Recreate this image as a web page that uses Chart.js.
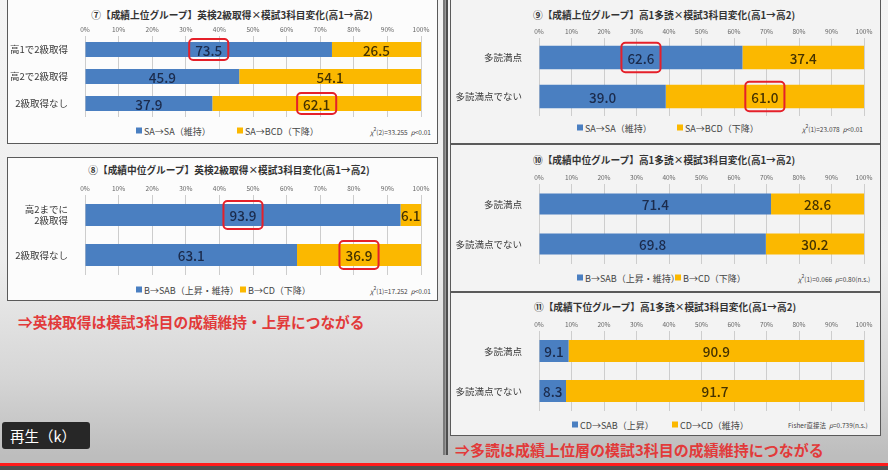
<!DOCTYPE html>
<html>
<head>
<meta charset="utf-8">
<script src="https://cdn.jsdelivr.net/npm/chart.js@4"></script>
<style>
  body { margin: 0; width: 888px; height: 470px; overflow: hidden; position: relative;
    font-family: "Noto Sans CJK JP", "Noto Sans", sans-serif;
    background: linear-gradient(to bottom, #f4f4f4 0%, #eeeeee 55%, #d6d6d6 80%, #bdbdbd 97%); }
  .panel { position: absolute; box-sizing: border-box; border: 1.5px solid #5a5a5a; }
  .left { background: #fcfcfc; }
  .right { background: #f3f3f3; }
  canvas { position: absolute; }
  .title { position: absolute; font-size: 9.7px; font-weight: bold; color: #333; white-space: nowrap; transform: translate(-50%, -50%); }
  .leg { position: absolute; font-size: 9px; color: #444; white-space: nowrap; transform: translateY(-50%); }
  .leg i { display: inline-block; width: 6px; height: 6px; margin-right: 2px; vertical-align: 1px; }
  .stat { position: absolute; font-size: 6.5px; color: #444; white-space: nowrap; transform: translateY(-50%); }
  .note { position: absolute; color: #e23a3a; font-weight: bold; white-space: nowrap; transform: translateY(-50%); }
  #frame { position: absolute; left: 443px; top: 0; width: 1px; height: 455px; border-left: 2px solid #7a7a7a; border-right: 2px solid #4e4e4e; background: #999; }
  #play { position: absolute; left: 2px; top: 422px; width: 88px; height: 27px; background: #272727; border-radius: 3px;
    color: #fff; font-size: 14.5px; line-height: 27px; padding-left: 8px; box-sizing: border-box; }
</style>
</head>
<body>
<div id="frame"></div>
<div id="panels"></div>
<div class="note" style="left:18px; top:321px; font-size:14.7px;">⇒英検取得は模試3科目の成績維持・上昇につながる</div>
<div class="note" style="left:455px; top:449px; font-size:15px;">⇒多読は成績上位層の模試3科目の成績維持につながる</div>
<div id="play">再生（k）</div>
<div style="position:absolute; left:0; top:463px; width:888px; height:3px; background:#ff1c1c;"></div>
<div style="position:absolute; left:0; top:466px; width:888px; height:4px; background:#505050;"></div>

<script>
const tickLabels = ["0%", "10%", "20%", "30%", "40%", "50%", "60%", "70%", "80%", "90%", "100%"];

const cats7 = ["高1で2級取得", "高2で2級取得", "2級取得なし"];
const keep7 = [73.5, 45.9, 37.9];
const drop7 = [26.5, 54.1, 62.1];

const cats8 = [["高2までに", "2級取得"], "2級取得なし"];
const keep8 = [93.9, 63.1];
const drop8 = [6.1, 36.9];

const cats9 = ["多読満点", "多読満点でない"];
const keep9 = [62.6, 39.0];
const drop9 = [37.4, 61.0];

const keep10 = [71.4, 69.8];
const drop10 = [28.6, 30.2];

const up11 = [9.1, 8.3];
const stay11 = [90.9, 91.7];

const BLUE = "#4a7fc1";
const GOLD = "#fbb800";
const FONT = '"Noto Sans CJK JP", "Noto Sans", sans-serif';

// numbers in the middle of each bar, red box round the marked ones
const barLabels = {
  id: "barLabels",
  afterDatasetsDraw(chart, args, opts) {
    const ctx = chart.ctx;
    chart.data.datasets.forEach((ds, di) => {
      chart.getDatasetMeta(di).data.forEach((bar, i) => {
        const txt = ds.data[i].toFixed(1);
        const cx = (bar.x + bar.base) / 2;
        ctx.save();
        ctx.font = "500 13.5px " + FONT;
        ctx.fillStyle = ds.labelColor;
        ctx.textAlign = "center";
        ctx.textBaseline = "middle";
        ctx.fillText(txt, cx, bar.y + 1);
        if (opts.hi.some((h) => h[0] === di && h[1] === i)) {
          const w = ctx.measureText(txt).width + 12;
          const h = bar.height + 6;
          ctx.strokeStyle = "#e5202a";
          ctx.lineWidth = 2;
          ctx.beginPath();
          ctx.roundRect(cx - w / 2, bar.y - h / 2, w, h, 4);
          ctx.stroke();
        }
        ctx.restore();
      });
    });
  },
};

function addDiv(cls, style, html) {
  const d = document.createElement("div");
  d.className = cls;
  d.style.cssText = style;
  d.innerHTML = html;
  document.getElementById("panels").appendChild(d);
}

function makePanel(p) {
  const [px, py, pw, ph] = p.box;
  const [l, t, r, b] = p.area;
  addDiv("panel " + p.side, `left:${px}px; top:${py}px; width:${pw}px; height:${ph}px;`, "");
  addDiv("title", `left:${p.titleX}px; top:${p.titleY}px;`, p.title);
  addDiv("leg", `left:${p.legX[0]}px; top:${p.legY}px;`, `<i style="background:${BLUE}"></i>${p.names[0]}`);
  addDiv("leg", `left:${p.legX[1]}px; top:${p.legY}px;`, `<i style="background:${GOLD}"></i>${p.names[1]}`);
  addDiv("stat", `left:${p.statX}px; top:${p.legY}px;`, p.stat);

  const canvas = document.createElement("canvas");
  canvas.width = pw;
  canvas.height = ph;
  canvas.style.left = px + "px";
  canvas.style.top = py + "px";
  document.getElementById("panels").appendChild(canvas);

  const axisH = 11;
  new Chart(canvas, {
    type: "bar",
    data: {
      labels: p.cats,
      datasets: [
        { data: p.a, backgroundColor: BLUE, labelColor: "#1b2b4c", barPercentage: p.bp, categoryPercentage: 1 },
        { data: p.b, backgroundColor: GOLD, labelColor: "#443200", barPercentage: p.bp, categoryPercentage: 1 },
      ],
    },
    options: {
      indexAxis: "y",
      responsive: false,
      animation: false,
      layout: { padding: { top: t - py - axisH, right: px + pw - r, bottom: py + ph - b, left: 0 } },
      plugins: {
        legend: { display: false },
        tooltip: { enabled: false },
        barLabels: { hi: p.hi },
      },
      scales: {
        x: {
          stacked: true,
          min: 0,
          max: 100,
          position: "top",
          ticks: {
            stepSize: 10,
            autoSkip: false,
            maxRotation: 0,
            padding: 3,
            color: "#666",
            font: { size: 6.5, family: FONT },
            callback: (v, i) => tickLabels[i],
          },
          grid: { color: "#cdcdcd", drawTicks: false },
          border: { display: false },
          afterFit: (s) => { s.height = axisH; },
        },
        y: {
          stacked: true,
          ticks: { padding: 9, color: "#3a3a3a", font: { size: 9.5, family: FONT } },
          grid: { display: false },
          border: { display: false },
          afterFit: (s) => { s.width = l - px; },
        },
      },
    },
    plugins: [barLabels],
  });
}

makePanel({
  side: "left", box: [7, -2, 431, 146], area: [85, 36, 421, 117], bp: 0.55,
  title: "⑦【成績上位グループ】英検2級取得×模試3科目変化(高1→高2)", titleX: 232, titleY: 15,
  cats: cats7, a: keep7, b: drop7, hi: [[0, 0], [1, 2]],
  names: ["SA→SA（維持）", "SA→BCD（下降）"], legX: [136, 237], legY: 131,
  stat: "<i>χ</i><sup style='font-size:5px'>2</sup>(2)=33.255&nbsp;&nbsp;<i>p</i>&lt;0.01", statX: 370,
});

makePanel({
  side: "left", box: [7, 157, 431, 144], area: [85, 195, 421, 275], bp: 0.55,
  title: "⑧【成績中位グループ】英検2級取得×模試3科目変化(高1→高2)", titleX: 229, titleY: 170,
  cats: cats8, a: keep8, b: drop8, hi: [[0, 0], [1, 1]],
  names: ["B→SAB（上昇・維持）", "B→CD（下降）"], legX: [136, 240], legY: 290,
  stat: "<i>χ</i><sup style='font-size:5px'>2</sup>(1)=17.252&nbsp;&nbsp;<i>p</i>&lt;0.01", statX: 370,
});

makePanel({
  side: "right", box: [450, -2, 431, 146], area: [539, 38, 864, 116], bp: 0.6,
  title: "⑨【成績上位グループ】高1多読×模試3科目変化(高1→高2)", titleX: 664, titleY: 15,
  cats: cats9, a: keep9, b: drop9, hi: [[0, 0], [1, 1]],
  names: ["SA→SA（維持）", "SA→BCD（下降）"], legX: [577, 677], legY: 128,
  stat: "<i>χ</i><sup style='font-size:5px'>2</sup>(1)=23.078&nbsp;&nbsp;<i>p</i>&lt;0.01", statX: 802,
});

makePanel({
  side: "right", box: [450, 144, 431, 148], area: [539, 184, 864, 264], bp: 0.53,
  title: "⑩【成績中位グループ】高1多読×模試3科目変化(高1→高2)", titleX: 664, titleY: 160,
  cats: cats9, a: keep10, b: drop10, hi: [],
  names: ["B→SAB（上昇・維持）", "B→CD（下降）"], legX: [577, 675], legY: 278,
  stat: "<i>χ</i><sup style='font-size:5px'>2</sup>(1)=0.066&nbsp;&nbsp;<i>p</i>=0.80(n.s.)", statX: 798,
});

makePanel({
  side: "right", box: [450, 292, 431, 144], area: [539, 331, 864, 411], bp: 0.55,
  title: "⑪【成績下位グループ】高1多読×模試3科目変化(高1→高2)", titleX: 665, titleY: 307,
  cats: cats9, a: up11, b: stay11, hi: [],
  names: ["CD→SAB（上昇）", "CD→CD（維持）"], legX: [572, 672], legY: 425,
  stat: "Fisher直接法&nbsp;&nbsp;<i>p</i>=0.739(n.s.)", statX: 788,
});
</script>
</body>
</html>
